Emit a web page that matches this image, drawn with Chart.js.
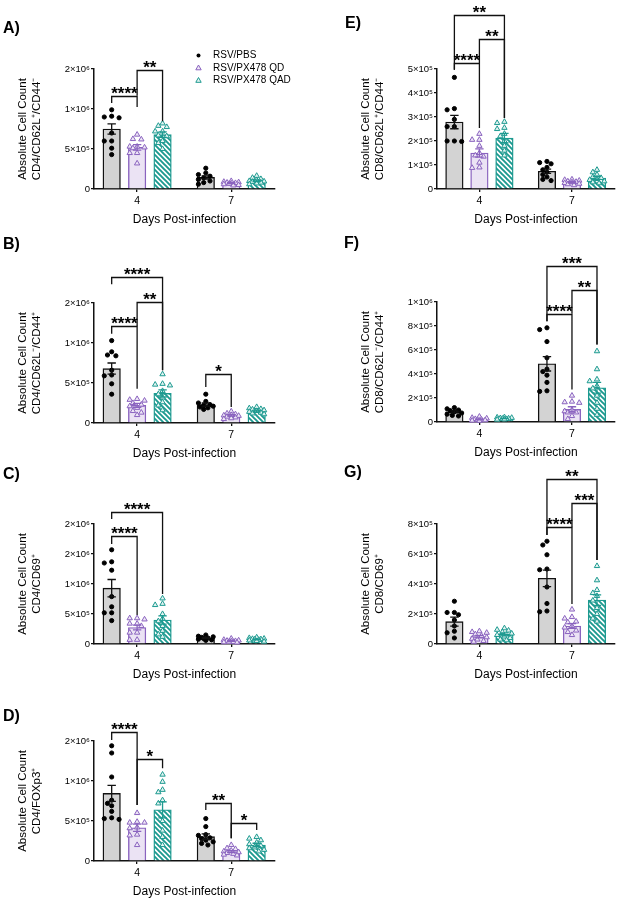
<!DOCTYPE html>
<html><head><meta charset="utf-8">
<script src="https://cdn.jsdelivr.net/npm/chart.js@4.4.1/dist/chart.umd.min.js"></script>
<style>
html,body{margin:0;padding:0;background:#fff}
body{width:620px;height:900px;overflow:hidden;position:relative}
canvas{position:absolute}
</style></head><body>
<canvas id="cA"></canvas><canvas id="cB"></canvas><canvas id="cC"></canvas><canvas id="cD"></canvas>
<canvas id="cE"></canvas><canvas id="cF"></canvas><canvas id="cG"></canvas>
<script>
// ---------- categories ----------
const SERIES = ['RSV/PBS', 'RSV/PX478 QD', 'RSV/PX478 QAD'];
const DAYS = ['4', '7'];
const X_TITLE = 'Days Post-infection';
const Y_TITLE = 'Absolute Cell Count';

// ---------- tick labels ----------
const YT_A = ['0', '5×10⁵', '1×10⁶', '2×10⁶'];
const YT_B = ['0', '5×10⁵', '1×10⁶', '2×10⁶'];
const YT_C = ['0', '5×10⁵', '1×10⁶', '2×10⁶', '2×10⁶'];
const YT_D = ['0', '5×10⁵', '1×10⁶', '2×10⁶'];
const YT_E = ['0', '1×10⁵', '2×10⁵', '3×10⁵', '4×10⁵', '5×10⁵'];
const YT_F = ['0', '2×10⁵', '4×10⁵', '6×10⁵', '8×10⁵', '1×10⁶'];
const YT_G = ['0', '2×10⁵', '4×10⁵', '6×10⁵', '8×10⁵'];

// ---------- A) CD4/CD62L+/CD44- ----------
// means & SEM: [series][day]
const A_MEAN = [[7.5e5, 1.45e5], [5.2e5, 7.2e4], [6.8e5, 1.04e5]];
const A_SEM  = [[6.5e4, 2.0e4], [3.5e4, 6e3], [3.5e4, 1.0e4]];
const A_PBS = [[9.9e5, 9.1e5, 9.0e5, 8.9e5, 7.0e5, 6.0e5, 6.0e5, 5.1e5, 4.3e5],
               [2.6e5, 2.0e5, 1.8e5, 1.6e5, 1.4e5, 1.2e5, 1.0e5, 8e4, 6e4]];
const A_QD  = [[6.8e5, 6.25e5, 6.2e5, 5.3e5, 5.3e5, 5.2e5, 5.1e5, 4.5e5, 4.5e5, 3.2e5],
               [1.0e5, 9e4, 8.5e4, 8e4, 7.5e4, 7e4, 6.5e4, 6e4, 5e4, 4.5e4]];
const A_QAD = [[8.2e5, 7.9e5, 7.75e5, 7.2e5, 7.2e5, 6.7e5, 6.6e5, 6.0e5, 5.75e5, 5.0e5],
               [1.65e5, 1.4e5, 1.25e5, 1.1e5, 1.0e5, 9.5e4, 9e4, 8e4, 7e4, 6e4]];

// ---------- B) CD4/CD62L-/CD44+ ----------
const B_MEAN = [[6.8e5, 2.3e5], [2.2e5, 9.5e4], [3.7e5, 1.5e5]];
const B_SEM  = [[7e4, 2e4], [2.5e4, 1e4], [4.5e4, 1e4]];
const B_PBS = [[1.03e6, 8.9e5, 8.5e5, 8.4e5, 6.6e5, 6.0e5, 5.9e5, 4.9e5, 3.6e5],
               [3.6e5, 2.7e5, 2.5e5, 2.3e5, 2.2e5, 2.1e5, 2.0e5, 1.9e5, 1.7e5]];
const B_QD  = [[3.0e5, 2.9e5, 2.8e5, 2.5e5, 2.3e5, 2.1e5, 1.9e5, 1.5e5, 1.3e5, 1.0e5],
               [1.45e5, 1.2e5, 1.1e5, 1.0e5, 9.5e4, 9e4, 8e4, 7e4, 6e4, 5e4]];
const B_QAD = [[6.1e5, 4.9e5, 4.8e5, 4.7e5, 4.0e5, 3.6e5, 3.2e5, 2.6e5, 2.2e5, 1.6e5],
               [2.0e5, 1.85e5, 1.75e5, 1.7e5, 1.6e5, 1.5e5, 1.4e5, 1.3e5, 1.2e5, 1.1e5]];

// ---------- C) CD4/CD69+ ----------
const C_MEAN = [[9.3e5, 1.0e5], [2.75e5, 5e4], [4.0e5, 7.8e4]];
const C_SEM  = [[1.45e5, 1e4], [4e4, 6e3], [7e4, 8e3]];
const C_PBS = [[1.57e6, 1.37e6, 1.35e6, 1.23e6, 7.9e5, 6.2e5, 5.2e5, 5.2e5, 3.9e5],
               [1.5e5, 1.3e5, 1.2e5, 1.1e5, 1.0e5, 9e4, 8e4, 7e4, 6e4]];
const C_QD  = [[4.3e5, 4.3e5, 4.1e5, 3.4e5, 3.4e5, 3.0e5, 1.9e5, 1.9e5, 7e4, 7e4],
               [9e4, 7e4, 6e4, 5.5e4, 5e4, 4.5e4, 4e4, 3.5e4, 3e4, 2.5e4]];
const C_QAD = [[7.6e5, 6.7e5, 6.5e5, 5.0e5, 4.2e5, 3.8e5, 3.0e5, 2.2e5, 1.6e5, 1.2e5],
               [1.1e5, 1.0e5, 9e4, 8.5e4, 8e4, 7.5e4, 7e4, 6e4, 5e4, 4e4]];

// ---------- D) CD4/FOXp3+ ----------
const D_MEAN = [[8.46e5, 3.04e5], [4.15e5, 1.17e5], [6.4e5, 2.0e5]];
const D_SEM  = [[1.0e5, 3.5e4], [4.5e4, 1.3e4], [1.0e5, 2.2e4]];
const D_PBS = [[1.44e6, 1.35e6, 1.05e6, 7.6e5, 7.2e5, 6.9e5, 6.2e5, 5.4e5, 5.3e5, 5.2e5],
               [5.3e5, 4.3e5, 3.3e5, 3.2e5, 2.9e5, 2.8e5, 2.6e5, 2.4e5, 2.2e5, 2.0e5]];
const D_QD  = [[6.0e5, 4.9e5, 4.8e5, 4.8e5, 4.2e5, 4.1e5, 3.3e5, 3.2e5, 2.0e5],
               [2.0e5, 1.6e5, 1.5e5, 1.3e5, 1.2e5, 1.1e5, 1.0e5, 9e4, 8e4, 7e4]];
const D_QAD = [[1.08e6, 9.9e5, 8.9e5, 8.6e5, 7.6e5, 7.2e5, 5.0e5, 3.8e5, 3.0e5, 2.0e5],
               [3.0e5, 2.8e5, 2.6e5, 2.3e5, 2.1e5, 1.9e5, 1.7e5, 1.6e5, 1.4e5, 1.2e5]];

// ---------- E) CD8/CD62L+/CD44- ----------
const E_MEAN = [[2.79e5, 7.4e4], [1.5e5, 2.8e4], [2.12e5, 4.6e4]];
const E_SEM  = [[2.8e4, 9e3], [1.7e4, 3e3], [2.0e4, 6e3]];
const E_PBS = [[4.65e5, 3.35e5, 3.3e5, 2.9e5, 2.6e5, 2.6e5, 2.0e5, 2.0e5, 1.98e5],
               [1.15e5, 1.1e5, 1.05e5, 9e4, 8e4, 7e4, 6e4, 5e4, 4e4, 3.5e4]];
const E_QD  = [[2.3e5, 2.05e5, 2.05e5, 1.8e5, 1.5e5, 1.4e5, 1.35e5, 1.1e5, 9e4, 8.8e4],
               [4e4, 3.8e4, 3.5e4, 3.2e4, 3e4, 2.8e4, 2.5e4, 2.2e4, 2e4, 1.6e4]];
const E_QAD = [[2.8e5, 2.75e5, 2.55e5, 2.5e5, 2.3e5, 2.2e5, 2.0e5, 1.8e5, 1.6e5, 1.4e5],
               [8e4, 7e4, 6e4, 5e4, 4.6e4, 4.2e4, 3.8e4, 3.2e4, 2.8e4, 2.4e4]];

// ---------- F) CD8/CD62L-/CD44+ ----------
const F_MEAN = [[8.4e4, 4.85e5], [2.2e4, 1.05e5], [3.0e4, 2.85e5]];
const F_SEM  = [[8e3, 6e4], [4e3, 2.2e4], [2.5e3, 4.5e4]];
const F_PBS = [[1.2e5, 1.1e5, 1.0e5, 9.5e4, 8.5e4, 7.5e4, 6.5e4, 5.5e4, 5e4],
               [7.85e5, 7.7e5, 6.7e5, 5.35e5, 4.4e5, 4.2e5, 3.9e5, 3.3e5, 2.6e5, 2.55e5]];
const F_QD  = [[4.5e4, 3.5e4, 3e4, 2.5e4, 2e4, 1.8e4, 1.5e4, 1.2e4, 1e4],
               [2.2e5, 1.7e5, 1.65e5, 1.6e5, 1.0e5, 9e4, 8e4, 8e4, 5e4, 2.5e4]];
const F_QAD = [[4e4, 3.8e4, 3.5e4, 3.2e4, 3e4, 2.8e4, 2.5e4, 2.2e4, 2e4],
               [5.9e5, 4.4e5, 3.55e5, 3.4e5, 3.0e5, 2.8e5, 2.2e5, 1.6e5, 1.1e5, 6e4]];

// ---------- G) CD8/CD69+ ----------
const G_MEAN = [[1.49e5, 4.38e5], [4.9e4, 1.2e5], [6.4e4, 2.93e5]];
const G_SEM  = [[3e4, 5.5e4], [8e3, 1.6e4], [1e4, 3.5e4]];
const G_PBS = [[2.85e5, 2.1e5, 2.1e5, 1.95e5, 1.6e5, 1.2e5, 8.5e4, 7.5e4, 4e4],
               [6.85e5, 6.6e5, 5.95e5, 5.0e5, 4.95e5, 3.8e5, 2.7e5, 2.2e5, 2.15e5]];
const G_QD  = [[8.5e4, 8e4, 7.5e4, 6.5e4, 5.5e4, 4.5e4, 3.5e4, 3e4, 2e4, 1.5e4],
               [2.3e5, 1.8e5, 1.7e5, 1.5e5, 1.45e5, 1.2e5, 1.1e5, 9e4, 8e4, 6e4]];
const G_QAD = [[1.05e5, 9.5e4, 9e4, 8e4, 7e4, 6e4, 5e4, 4e4, 3e4, 2.5e4],
               [5.2e5, 4.25e5, 3.6e5, 3.4e5, 3.2e5, 2.9e5, 2.4e5, 2.0e5, 1.7e5, 1.5e5]];

// ---------- significance brackets (day index, from series, to series, label, values) ----------
const A_SIG = [[0, 0, 1, '****', 1.167e6, 1.075e6, 1.025e6], [0, 1, 2, '**', 1.49e6, 1.167e6, 8.46e5]];
const B_SIG = [[0, 0, 2, '****', 1.825e6, 1.733e6, 6.58e5], [0, 1, 2, '**', 1.513e6, 1.208e6, 6.58e5],
               [0, 0, 1, '****', 1.208e6, 1.117e6, 4.29e5], [1, 0, 1, '*', 6.17e5, 4.5e5, 2.0e5]];
const C_SIG = [[0, 0, 2, '****', 2.206e6, 2.083e6, 8.33e5], [0, 0, 1, '****', 1.8e6, 1.667e6, 4.83e5]];
const D_SIG = [[0, 0, 1, '****', 1.617e6, 1.513e6, 7.0e5], [0, 1, 2, '*', 1.271e6, 7.0e5, 1.158e6],
               [1, 0, 1, '**', 7.21e5, 6.38e5, 2.83e5], [1, 1, 2, '*', 4.71e5, 2.83e5, 3.88e5]];
const E_SIG = [[0, 0, 2, '**', 7.26e5, 4.97e5, 2.96e5], [0, 1, 2, '**', 6.25e5, 5.25e5, 2.96e5],
               [0, 0, 1, '****', 5.25e5, 4.97e5, 2.54e5]];
const F_SIG = [[1, 0, 2, '***', 1.302e6, 8.39e5, 6.45e5], [1, 1, 2, '**', 1.097e6, 9.03e5, 6.45e5],
               [1, 0, 1, '****', 9.03e5, 8.39e5, 2.71e5]];
const G_SIG = [[1, 0, 2, '**', 1.098e6, 7.27e5, 5.6e5], [1, 1, 2, '***', 9.42e5, 7.78e5, 5.6e5],
               [1, 0, 1, '****', 7.78e5, 7.27e5, 2.67e5]];

// ---------- styling / layout ----------
const FONT = '"Liberation Sans", Arial, Helvetica, sans-serif';
const INK = '#111111';
const PURPLE = '#8a63bf';
const TEAL = '#1d9a90';
const BAR_FILL = ['#d3d3d3', '#ebe3f4', null];
const BAR_LINE = [INK, PURPLE, TEAL];
const PT_FILL = ['#000000', '#eee7f6', '#e2f3f1'];
const PT_LINE = ['#000000', PURPLE, TEAL];
const GROUP_GAP = 3.7;      // x-units between day groups (layout)
const X_MIN = -0.695, X_MAX = 6.42;
const PLOT_H = 120, UNIT_PX = 181 / (X_MAX - X_MIN);

Chart.defaults.font.family = FONT;
Chart.defaults.color = '#000';

const PANELS = [
  {id: 'A', left: 0,   top: 0,   w: 300, lx: 3, ly: 29,   sub: 'CD4/CD62L⁺/CD44⁻', max: 1.5e6, step: 5e5, yt: YT_A, mean: A_MEAN, sem: A_SEM, pts: [A_PBS, A_QD, A_QAD], sig: A_SIG, legend: true},
  {id: 'B', left: 0,   top: 234, w: 300, lx: 3, ly: 11,   sub: 'CD4/CD62L⁻/CD44⁺', max: 1.5e6, step: 5e5, yt: YT_B, mean: B_MEAN, sem: B_SEM, pts: [B_PBS, B_QD, B_QAD], sig: B_SIG},
  {id: 'C', left: 0,   top: 455, w: 300, lx: 3, ly: 19.5, sub: 'CD4/CD69⁺',        max: 2e6,   step: 5e5, yt: YT_C, mean: C_MEAN, sem: C_SEM, pts: [C_PBS, C_QD, C_QAD], sig: C_SIG},
  {id: 'D', left: 0,   top: 672, w: 300, lx: 3, ly: 45,   sub: 'CD4/FOXp3⁺',       max: 1.5e6, step: 5e5, yt: YT_D, mean: D_MEAN, sem: D_SEM, pts: [D_PBS, D_QD, D_QAD], sig: D_SIG},
  {id: 'E', left: 343, top: 0,   w: 277, lx: 2, ly: 23.5, sub: 'CD8/CD62L⁺/CD44⁻', max: 5e5,   step: 1e5, yt: YT_E, mean: E_MEAN, sem: E_SEM, pts: [E_PBS, E_QD, E_QAD], sig: E_SIG},
  {id: 'F', left: 343, top: 233, w: 277, lx: 1, ly: 11,   sub: 'CD8/CD62L⁻/CD44⁺', max: 1e6,   step: 2e5, yt: YT_F, mean: F_MEAN, sem: F_SEM, pts: [F_PBS, F_QD, F_QAD], sig: F_SIG},
  {id: 'G', left: 343, top: 455, w: 277, lx: 1, ly: 17.5, sub: 'CD8/CD69⁺',        max: 8e5,   step: 2e5, yt: YT_G, mean: G_MEAN, sem: G_SEM, pts: [G_PBS, G_QD, G_QAD], sig: G_SIG}
];

function xPos(g, s) { return g * GROUP_GAP + s; }

// deterministic beeswarm-like horizontal spread (layout only)
function spread(vals, pxPerVal) {
  const cand = [0, -4.2, 4.2, -7.4, 7.4, -2.1, 2.1, -5.8, 5.8];
  const placed = [], offs = [];
  vals.forEach(v => {
    const y = v * pxPerVal;
    let best = 0, bestD = -1;
    for (const c of cand) {
      let md = Infinity;
      placed.forEach(p => { const d = Math.hypot(p[0] - c, p[1] - y); if (d < md) md = d; });
      if (md >= 4.6) { best = c; break; }
      if (md > bestD) { bestD = md; best = c; }
    }
    placed.push([best, y]);
    offs.push(best / UNIT_PX);
  });
  return offs;
}

function makeHatch(ctx) {
  const c = document.createElement('canvas');
  c.width = 5; c.height = 5;
  const g = c.getContext('2d');
  g.fillStyle = '#ffffff'; g.fillRect(0, 0, 5, 5);
  g.strokeStyle = TEAL; g.lineWidth = 1.9;
  g.beginPath();
  g.moveTo(-1, -1); g.lineTo(6, 6);
  g.moveTo(-1, 4); g.lineTo(1, 6);
  g.moveTo(4, -1); g.lineTo(6, 1);
  g.stroke();
  return ctx.createPattern(c, 'repeat');
}

function drawMarker(ctx, s, x, y) {
  ctx.save();
  ctx.lineWidth = 1;
  ctx.fillStyle = PT_FILL[s]; ctx.strokeStyle = PT_LINE[s];
  ctx.beginPath();
  if (s === 0) { ctx.arc(x, y, 2, 0, Math.PI * 2); ctx.fill(); }
  else {
    const r = 3;
    ctx.moveTo(x, y - r); ctx.lineTo(x + r * 0.9, y + r * 0.6); ctx.lineTo(x - r * 0.9, y + r * 0.6); ctx.closePath();
    ctx.fill(); ctx.stroke();
  }
  ctx.restore();
}

function makeChart(p) {
  const cv = document.getElementById('c' + p.id);
  cv.width = p.w; cv.height = 230;
  cv.style.left = p.left + 'px'; cv.style.top = p.top + 'px';
  const ctx = cv.getContext('2d');
  const pxPerVal = PLOT_H / p.max;
  const hatch = makeHatch(ctx);
  const datasets = [];
  SERIES.forEach((name, s) => {
    datasets.push({
      type: 'bar', label: name, order: 2,
      data: DAYS.map((d, g) => ({x: xPos(g, s), y: p.mean[s][g]})),
      backgroundColor: s === 2 ? hatch : BAR_FILL[s],
      borderColor: BAR_LINE[s], borderWidth: 1.4,
      barThickness: 17.5, grouped: false
    });
  });
  SERIES.forEach((name, s) => {
    const data = [];
    DAYS.forEach((d, g) => {
      const vals = p.pts[s][g];
      const offs = spread(vals, pxPerVal);
      vals.forEach((v, i) => data.push({x: xPos(g, s) + offs[i], y: v}));
    });
    datasets.push({
      type: 'scatter', label: name + ' points', order: 1, data,
      pointStyle: s === 0 ? 'circle' : 'triangle',
      pointRadius: s === 0 ? 2.1 : 3.1,
      pointBackgroundColor: PT_FILL[s], pointBorderColor: PT_LINE[s],
      pointBorderWidth: 1, clip: false
    });
  });

  const deco = {
    id: 'deco' + p.id,
    afterDatasetsDraw(chart) {
      const c = chart.ctx, xs = chart.scales.x, ys = chart.scales.y;
      c.save();
      c.lineWidth = 1.3;
      SERIES.forEach((n, s) => {
        DAYS.forEach((d, g) => {
          const x = xs.getPixelForValue(xPos(g, s));
          const m = p.mean[s][g], e = p.sem[s][g];
          const y1 = ys.getPixelForValue(m + e), y2 = ys.getPixelForValue(Math.max(0, m - e));
          c.strokeStyle = BAR_LINE[s];
          c.beginPath();
          c.moveTo(x, y1); c.lineTo(x, y2);
          c.moveTo(x - 4.2, y1); c.lineTo(x + 4.2, y1);
          c.moveTo(x - 4.2, y2); c.lineTo(x + 4.2, y2);
          c.stroke();
        });
      });
      c.restore();
    },
    afterDraw(chart) {
      const c = chart.ctx, xs = chart.scales.x, ys = chart.scales.y;
      c.save();
      // significance brackets
      c.strokeStyle = INK; c.lineWidth = 1.3; c.fillStyle = '#000';
      c.font = 'bold 17px ' + FONT; c.textAlign = 'center'; c.textBaseline = 'alphabetic';
      p.sig.forEach(b => {
        const [g, a, bb, txt, yv, ya, yb] = b;
        const xa = xs.getPixelForValue(xPos(g, a)), xb = xs.getPixelForValue(xPos(g, bb));
        const yl = Math.round(ys.getPixelForValue(yv)) + 0.5;
        c.beginPath();
        c.moveTo(xa, ys.getPixelForValue(ya)); c.lineTo(xa, yl);
        c.lineTo(xb, yl); c.lineTo(xb, ys.getPixelForValue(yb));
        c.stroke();
        c.fillText(txt, (xa + xb) / 2, yl + 2);
      });
      // panel letter
      c.font = 'bold 16px ' + FONT; c.textAlign = 'left'; c.textBaseline = 'middle';
      c.fillText(p.id + ')', p.lx, p.ly);
      // legend
      if (p.legend) {
        c.font = '10px ' + FONT; c.textBaseline = 'middle';
        SERIES.forEach((n, s) => {
          const y = 55.5 + s * 12.5;
          drawMarker(c, s, 198.5, y);
          c.fillStyle = '#000';
          c.fillText(n, 213, y);
        });
      }
      c.restore();
    }
  };

  new Chart(ctx, {
    type: 'bar',
    data: {datasets},
    plugins: [deco],
    options: {
      responsive: false, animation: false, devicePixelRatio: 1,
      events: [],
      layout: {padding: {top: 69, left: 0, right: p.w - 275, bottom: 0}},
      plugins: {legend: {display: false}, tooltip: {enabled: false}},
      scales: {
        x: {
          type: 'linear', min: X_MIN, max: X_MAX, offset: false,
          afterBuildTicks: sc => { sc.ticks = DAYS.map((d, g) => ({value: xPos(g, 1)})); },
          afterFit: sc => { sc.height = 41; },
          ticks: {callback: (v, i) => DAYS[i], font: {size: 10.5}, color: '#000', padding: 3, maxRotation: 0, autoSkip: false},
          grid: {display: true, drawOnChartArea: false, drawTicks: true, tickLength: 3, color: INK, lineWidth: 1.3, offset: false},
          border: {display: true, color: INK, width: 1.5},
          title: {display: true, text: X_TITLE, font: {size: 12}, color: '#000', padding: {top: 0, bottom: 3}}
        },
        y: {
          type: 'linear', min: 0, max: p.max,
          afterFit: sc => { sc.width = 94; },
          ticks: {stepSize: p.step, callback: (v, i) => p.yt[i], font: {size: 9.5}, color: '#000', padding: 1},
          grid: {display: true, drawOnChartArea: false, drawTicks: true, tickLength: 3, color: INK, lineWidth: 1.3},
          border: {display: true, color: INK, width: 1.5},
          title: {display: true, text: [Y_TITLE, p.sub], font: {size: 11.5}, color: '#000', padding: {top: 16, bottom: 0}}
        }
      }
    }
  });
}

PANELS.forEach(makeChart);
</script>
</body></html>
